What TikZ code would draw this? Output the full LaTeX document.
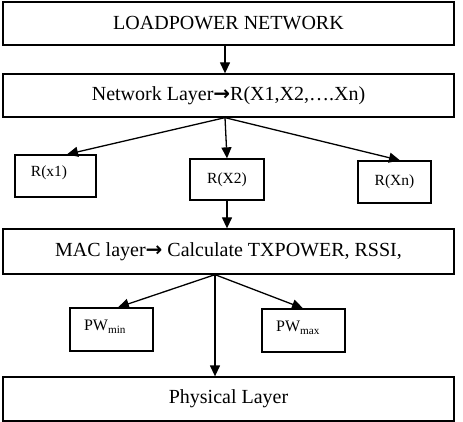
\documentclass[tikz,border=0pt]{standalone}
\usepackage{fontspec}
\setmainfont{Liberation Serif}
\newfontfamily\arrowfont{DejaVu Sans}
\usetikzlibrary{arrows.meta}
\begin{document}
\begin{tikzpicture}[x=1pt,y=-1pt,
  box/.style={draw, line width=1.3pt, inner sep=0pt},
  wide/.style={box, minimum width=451pt, font=\fontsize{20}{23}\selectfont},
  small/.style={box, font=\fontsize{15.5}{18}\selectfont},
  conn/.style={line width=1.3pt, -{Triangle[length=11pt,width=10pt]}}]
\useasboundingbox (0,0) rectangle (463,422);
\node[wide, minimum height=43pt] (load) at (228.5,23.5) {LOADPOWER NETWORK};
\node[wide, minimum height=43pt] (net) at (228.5,95.5) {Network Layer{\arrowfont\bfseries →}R(X1,X2,….Xn)};
\node[small, minimum width=81pt, minimum height=42pt] (rx1) at (55.5,176) {};
\node[font=\fontsize{15.5}{18}\selectfont] (trx1) at (49,173) {R(x1)};
\node[small, minimum width=74pt, minimum height=41pt] (rx2) at (227,179.5) {R(X2)};
\node[small, minimum width=73pt, minimum height=42pt] (rxn) at (394.5,182) {R(Xn)};
\node[wide, minimum height=45pt] (mac) at (228.5,251.5) {MAC layer{\arrowfont\bfseries →} Calculate TXPOWER, RSSI,};
\node[small, minimum width=83pt, minimum height=43pt] (pmin) at (111.5,329.5) {};
\node[font=\fontsize{16}{18}\selectfont] (tpmin) at (105,327) {PW\textsubscript{min}};
\node[small, minimum width=83pt, minimum height=43pt] (pmax) at (303.5,330.5) {};
\node[font=\fontsize{16}{18}\selectfont] (tpmax) at (298,328) {PW\textsubscript{max}};
\node[wide, minimum height=44pt] (phy) at (228.5,399) {Physical Layer};
\coordinate (c1) at (225,0);
\coordinate (c2) at (67,0);
\coordinate (c3) at (400,0);
\coordinate (c4) at (215,0);
\coordinate (c5) at (118,0);
\coordinate (c6) at (303,0);
\draw[conn] (load.south -| c1) -- (net.north -| c1);
\draw[conn] (net.south -| c1) -- (rx1.north -| c2);
\draw[conn] (net.south -| c1) -- (rx2.north);
\draw[conn] (net.south -| c1) -- (rxn.north -| c3);
\draw[conn] (rx2.south) -- (mac.north -| rx2);
\draw[conn] (mac.south -| c4) -- (pmin.north -| c5);
\draw[conn] (mac.south -| c4) -- (pmax.north -| c6);
\draw[conn] (mac.south -| c4) -- (phy.north -| c4);
\end{tikzpicture}
\end{document}
